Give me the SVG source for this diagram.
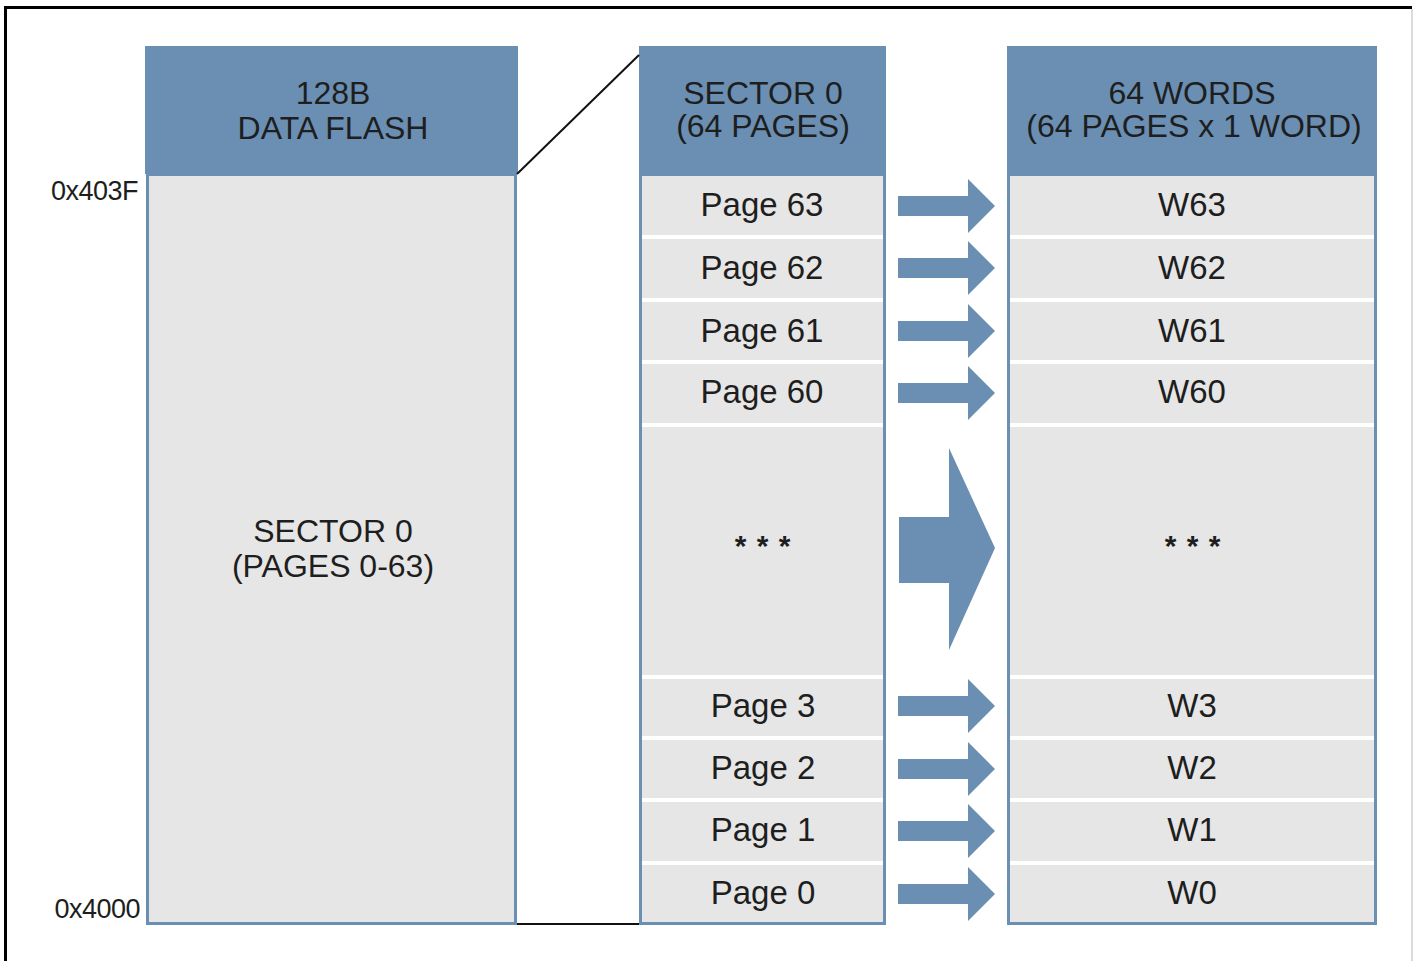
<svg xmlns="http://www.w3.org/2000/svg" width="1415" height="961" viewBox="0 0 1415 961">
<style>
.hdr{fill:#6a8fb3}
.body{fill:#e6e6e6;stroke:#6a8fb3;stroke-width:3}
.t{font-family:"Liberation Sans",Arial,sans-serif;font-size:33px;fill:#1e1e1e;text-anchor:middle}
.h{font-family:"Liberation Sans",Arial,sans-serif;font-size:32px;fill:#1e1e1e;text-anchor:middle}
.addr{font-family:"Liberation Sans",Arial,sans-serif;font-size:27px;fill:#1e1e1e;text-anchor:end;letter-spacing:-0.5px}
.dots{font-family:"Liberation Sans",Arial,sans-serif;font-size:30px;font-weight:bold;fill:#1e1e1e;text-anchor:middle;letter-spacing:1px}
.arr{fill:#6a8fb3}
.ln{stroke:#111;stroke-width:2;fill:none}
</style>
<defs>
<polygon id="sa" points="898,-10 968,-10 968,-27 995,0 968,27 968,10 898,10"/>
</defs>
<rect width="1415" height="961" fill="#ffffff"/>
<g id="frame">
<line x1="5" y1="7.5" x2="1412" y2="7.5" stroke="#000" stroke-width="3"/>
<line x1="5.5" y1="6" x2="5.5" y2="961" stroke="#000" stroke-width="3"/>
<line x1="1412" y1="9" x2="1412" y2="961" stroke="#cfcfcf" stroke-width="1.5"/>
</g>
<g id="address-labels">
<text class="addr" x="138" y="200">0x403F</text>
<text class="addr" x="140" y="918">0x4000</text>
</g>
<g id="data-flash">
<rect class="hdr" x="145" y="46" width="373" height="128"/>
<rect class="body" x="147.5" y="174.5" width="368" height="749"/>
<text class="h" x="333" y="104">128B</text>
<text class="h" x="333" y="139">DATA FLASH</text>
<text class="h" x="333" y="542">SECTOR 0</text>
<text class="h" x="333" y="577">(PAGES 0-63)</text>
</g>
<g id="sector-0">
<rect class="hdr" x="639" y="46" width="247" height="128"/>
<rect class="body" x="640.5" y="174.5" width="244" height="749"/>
<g stroke="#ffffff" stroke-width="4">
<line x1="642" y1="237" x2="883" y2="237"/>
<line x1="642" y1="300" x2="883" y2="300"/>
<line x1="642" y1="362" x2="883" y2="362"/>
<line x1="642" y1="425" x2="883" y2="425"/>
<line x1="642" y1="677" x2="883" y2="677"/>
<line x1="642" y1="738" x2="883" y2="738"/>
<line x1="642" y1="800" x2="883" y2="800"/>
<line x1="642" y1="863" x2="883" y2="863"/>
</g>
<text class="h" x="763" y="104">SECTOR 0</text>
<text class="h" x="763" y="137">(64 PAGES)</text>
<g id="page-63"><text class="t" x="762" y="216">Page 63</text></g>
<g id="page-62"><text class="t" x="762" y="279">Page 62</text></g>
<g id="page-61"><text class="t" x="762" y="342">Page 61</text></g>
<g id="page-60"><text class="t" x="762" y="403">Page 60</text></g>
<g id="page-dots"><text class="dots" x="763" y="556">* * *</text></g>
<g id="page-3"><text class="t" x="763" y="717">Page 3</text></g>
<g id="page-2"><text class="t" x="763" y="779">Page 2</text></g>
<g id="page-1"><text class="t" x="763" y="841">Page 1</text></g>
<g id="page-0"><text class="t" x="763" y="904">Page 0</text></g>
</g>
<g id="words-64">
<rect class="hdr" x="1007" y="46" width="370" height="128"/>
<rect class="body" x="1008.5" y="174.5" width="367" height="749"/>
<g stroke="#ffffff" stroke-width="4">
<line x1="1010" y1="237" x2="1374" y2="237"/>
<line x1="1010" y1="300" x2="1374" y2="300"/>
<line x1="1010" y1="362" x2="1374" y2="362"/>
<line x1="1010" y1="425" x2="1374" y2="425"/>
<line x1="1010" y1="677" x2="1374" y2="677"/>
<line x1="1010" y1="738" x2="1374" y2="738"/>
<line x1="1010" y1="800" x2="1374" y2="800"/>
<line x1="1010" y1="863" x2="1374" y2="863"/>
</g>
<text class="h" x="1192" y="104">64 WORDS</text>
<text class="h" x="1194" y="137">(64 PAGES x 1 WORD)</text>
<g id="w63"><text class="t" x="1192" y="216">W63</text></g>
<g id="w62"><text class="t" x="1192" y="279">W62</text></g>
<g id="w61"><text class="t" x="1192" y="342">W61</text></g>
<g id="w60"><text class="t" x="1192" y="403">W60</text></g>
<g id="w-dots"><text class="dots" x="1193" y="556">* * *</text></g>
<g id="w3"><text class="t" x="1192" y="717">W3</text></g>
<g id="w2"><text class="t" x="1192" y="779">W2</text></g>
<g id="w1"><text class="t" x="1192" y="841">W1</text></g>
<g id="w0"><text class="t" x="1192" y="904">W0</text></g>
</g>
<g id="connectors">
<line class="ln" x1="517" y1="174" x2="639" y2="55"/>
<line class="ln" x1="517" y1="924" x2="639" y2="924"/>
<use href="#sa" class="arr" transform="translate(0,206)"/>
<use href="#sa" class="arr" transform="translate(0,268)"/>
<use href="#sa" class="arr" transform="translate(0,331)"/>
<use href="#sa" class="arr" transform="translate(0,393)"/>
<polygon class="arr" points="899,517 949,517 949,448 995,548 949,650 949,583 899,583"/>
<use href="#sa" class="arr" transform="translate(0,706)"/>
<use href="#sa" class="arr" transform="translate(0,769)"/>
<use href="#sa" class="arr" transform="translate(0,831)"/>
<use href="#sa" class="arr" transform="translate(0,894)"/>
</g>
</svg>
